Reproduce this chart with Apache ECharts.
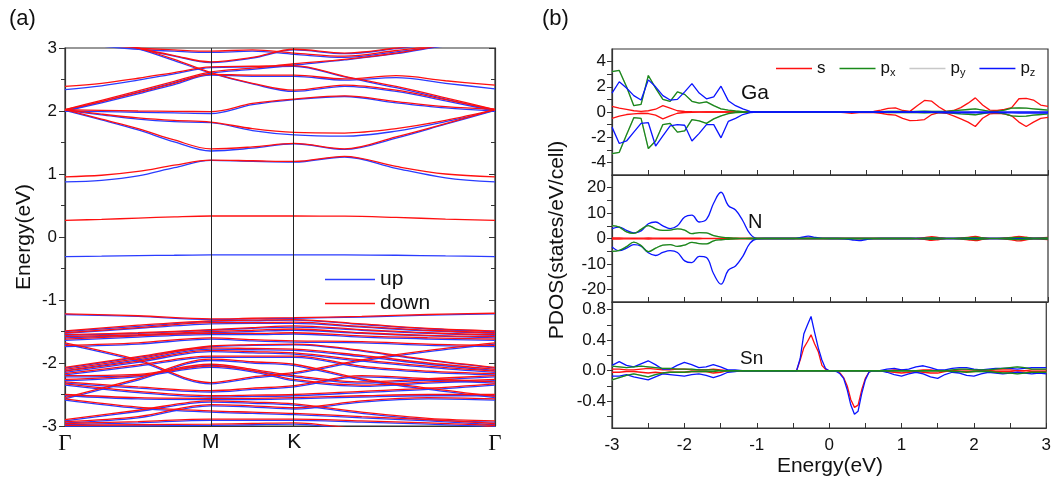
<!DOCTYPE html>
<html><head><meta charset="utf-8">
<script src="https://cdn.jsdelivr.net/npm/echarts@6/dist/echarts.min.js"></script>
<style>html,body{margin:0;padding:0;background:#fff}#c{width:1054px;height:485px}</style>
</head><body><div id="c"></div>
<script>
// ---------- Band structure (a) ----------
const kTicks = [0, 0.339, 0.533, 1];
const kLabels = ['Γ', 'M', 'K', 'Γ'];
const kC = [0, 0.085, 0.17, 0.254, 0.339, 0.436, 0.533, 0.65, 0.77, 0.885, 1.0];
const kV = [0, 0.17, 0.339, 0.436, 0.533, 0.69, 0.845, 1.0];

const condDown = [
  [0.955, 0.98, 1.04, 1.14, 1.22, 1.21, 1.20, 1.28, 1.12, 1.0, 0.955],
  [2.02, 1.87, 1.72, 1.54, 1.40, 1.43, 1.485, 1.40, 1.59, 1.80, 2.02],
  [2.02, 1.95, 1.89, 1.85, 1.825, 1.72, 1.66, 1.65, 1.72, 1.85, 2.02],
  [2.02, 2.01, 2.0, 1.995, 1.99, 2.12, 2.19, 2.24, 2.15, 2.07, 2.03],
  [2.02, 2.15, 2.29, 2.44, 2.58, 2.57, 2.57, 2.51, 2.56, 2.48, 2.41],
  [2.02, 2.17, 2.32, 2.47, 2.62, 2.68, 2.75, 2.82, 2.92, 3.05, 3.15],
  [2.39, 2.44, 2.52, 2.61, 2.70, 2.71, 2.72, 2.55, 2.39, 2.21, 2.02],
  [3.3, 3.15, 3.0, 2.82, 2.61, 2.44, 2.33, 2.41, 2.33, 2.18, 2.02],
  [3.3, 3.15, 3.0, 2.88, 2.78, 2.85, 2.98, 2.92, 3.0, 3.1, 3.2],
  [3.1, 3.05, 3.0, 2.97, 2.95, 2.97, 2.92, 2.87, 2.96, 3.05, 3.1]
];
const condUp = [
  [0.875, 0.90, 0.97, 1.10, 1.215, 1.20, 1.19, 1.27, 1.09, 0.94, 0.875],
  [2.01, 1.86, 1.70, 1.51, 1.365, 1.41, 1.48, 1.39, 1.57, 1.79, 2.01],
  [2.01, 1.94, 1.87, 1.83, 1.815, 1.69, 1.62, 1.60, 1.68, 1.83, 2.01],
  [2.0, 1.99, 1.98, 1.97, 1.96, 2.10, 2.18, 2.23, 2.13, 2.05, 2.0],
  [2.0, 2.13, 2.27, 2.42, 2.57, 2.55, 2.55, 2.49, 2.53, 2.44, 2.35],
  [2.0, 2.15, 2.30, 2.45, 2.60, 2.66, 2.73, 2.81, 2.91, 3.04, 3.14],
  [2.34, 2.40, 2.49, 2.59, 2.69, 2.70, 2.71, 2.54, 2.37, 2.19, 2.0],
  [3.3, 3.15, 2.99, 2.80, 2.60, 2.43, 2.31, 2.39, 2.31, 2.16, 2.0],
  [3.3, 3.14, 2.99, 2.87, 2.77, 2.84, 2.97, 2.91, 2.99, 3.09, 3.2],
  [3.08, 3.03, 2.98, 2.95, 2.93, 2.95, 2.90, 2.85, 2.94, 3.03, 3.08]
];
const gapDown = [0.265, 0.28, 0.30, 0.32, 0.333, 0.333, 0.333, 0.33, 0.31, 0.285, 0.265];
const gapUp = [-0.31, -0.305, -0.295, -0.29, -0.285, -0.285, -0.285, -0.285, -0.29, -0.30, -0.31];

const valDown = [
  [-1.22, -1.25, -1.30, -1.29, -1.28, -1.26, -1.23, -1.21],
  [-1.49, -1.40, -1.33, -1.32, -1.31, -1.38, -1.45, -1.49],
  [-1.52, -1.44, -1.36, -1.36, -1.35, -1.42, -1.48, -1.52],
  [-1.55, -1.52, -1.47, -1.44, -1.41, -1.47, -1.52, -1.55],
  [-1.58, -1.55, -1.50, -1.48, -1.46, -1.52, -1.56, -1.58],
  [-1.62, -1.57, -1.53, -1.53, -1.52, -1.57, -1.60, -1.62],
  [-1.68, -1.95, -2.31, -2.22, -2.15, -1.95, -1.80, -1.68],
  [-1.72, -1.68, -1.60, -1.63, -1.65, -1.66, -1.70, -1.72],
  [-2.07, -1.90, -1.73, -1.71, -1.70, -1.80, -1.95, -2.07],
  [-2.10, -1.93, -1.76, -1.77, -1.78, -1.88, -2.00, -2.10],
  [-2.13, -1.97, -1.80, -1.82, -1.84, -1.95, -2.05, -2.13],
  [-2.17, -2.03, -1.89, -1.89, -1.89, -2.05, -2.13, -2.17],
  [-2.55, -2.25, -1.94, -1.98, -2.02, -2.25, -2.40, -2.53],
  [-2.20, -2.18, -2.02, -2.10, -2.20, -2.30, -2.25, -2.20],
  [-2.26, -2.20, -2.05, -2.12, -2.26, -2.35, -2.30, -2.26],
  [-2.30, -2.38, -2.44, -2.40, -2.36, -2.20, -2.25, -2.30],
  [-2.33, -2.45, -2.52, -2.51, -2.50, -2.45, -2.40, -2.33],
  [-2.50, -2.55, -2.56, -2.56, -2.55, -2.52, -2.50, -2.50],
  [-2.90, -2.75, -2.60, -2.62, -2.65, -2.78, -2.88, -2.92],
  [-2.93, -2.85, -2.66, -2.68, -2.71, -2.60, -2.55, -2.57],
  [-2.57, -2.70, -2.76, -2.78, -2.80, -2.85, -2.90, -2.96],
  [-2.96, -2.93, -2.89, -2.89, -2.89, -2.92, -2.95, -2.99],
  [-2.99, -2.98, -2.97, -2.96, -2.95, -3.05, -3.10, -2.99]
];
const valUp = [
  [-1.23, -1.26, -1.31, -1.30, -1.29, -1.27, -1.24, -1.22],
  [-1.50, -1.42, -1.34, -1.33, -1.32, -1.39, -1.46, -1.50],
  [-1.53, -1.45, -1.38, -1.37, -1.37, -1.43, -1.49, -1.53],
  [-1.56, -1.53, -1.48, -1.45, -1.43, -1.48, -1.53, -1.56],
  [-1.60, -1.56, -1.52, -1.50, -1.48, -1.53, -1.57, -1.60],
  [-1.64, -1.59, -1.55, -1.55, -1.54, -1.59, -1.62, -1.64],
  [-1.70, -1.97, -2.33, -2.24, -2.17, -1.97, -1.82, -1.70],
  [-1.74, -1.70, -1.62, -1.65, -1.67, -1.68, -1.72, -1.74],
  [-2.08, -1.91, -1.74, -1.72, -1.71, -1.81, -1.96, -2.08],
  [-2.12, -1.95, -1.78, -1.79, -1.80, -1.90, -2.02, -2.12],
  [-2.15, -1.99, -1.82, -1.84, -1.86, -1.97, -2.07, -2.15],
  [-2.19, -2.05, -1.91, -1.91, -1.91, -2.07, -2.15, -2.19],
  [-2.57, -2.27, -1.96, -2.00, -2.04, -2.27, -2.42, -2.55],
  [-2.22, -2.20, -2.04, -2.12, -2.22, -2.32, -2.27, -2.22],
  [-2.28, -2.22, -2.07, -2.14, -2.28, -2.37, -2.32, -2.28],
  [-2.32, -2.40, -2.46, -2.42, -2.38, -2.22, -2.27, -2.32],
  [-2.35, -2.47, -2.54, -2.53, -2.52, -2.47, -2.42, -2.35],
  [-2.52, -2.57, -2.58, -2.58, -2.57, -2.54, -2.52, -2.52],
  [-2.92, -2.77, -2.62, -2.64, -2.67, -2.80, -2.90, -2.94],
  [-2.95, -2.87, -2.68, -2.70, -2.73, -2.62, -2.57, -2.59],
  [-2.59, -2.72, -2.78, -2.80, -2.82, -2.87, -2.92, -2.98],
  [-2.98, -2.95, -2.91, -2.91, -2.91, -2.94, -2.97, -3.01],
  [-3.01, -3.00, -2.99, -2.98, -2.97, -3.07, -3.12, -3.01]
];

// ---------- PDOS (b) ----------
const eGrid = [-3.0,-2.9,-2.8,-2.7,-2.6,-2.5,-2.4,-2.3,-2.2,-2.1,-2.0,-1.9,-1.8,-1.7,-1.6,-1.5,-1.4,-1.3,-1.2,-1.1,
  -1.0,-0.9,-0.8,-0.7,-0.6,-0.5,-0.4,-0.3,-0.2,-0.1,0.0,0.1,0.2,0.3,0.4,0.5,0.6,0.7,0.8,0.9,
  1.0,1.1,1.2,1.3,1.4,1.5,1.6,1.7,1.8,1.9,2.0,2.1,2.2,2.3,2.4,2.5,2.6,2.7,2.8,2.9,3.0];

const gaSUp = [0.45,0.30,0.20,0.10,0.05,0.10,0.22,0.50,0.30,0.10,0.04,0.02,0.01,
  0,0,0,0,0,0,0,0,0,0,0,0,0,0,0,0,0,
  0,0,0,0,0,0.02,0.05,0.15,0.28,0.33,
  0.12,0.05,0.5,0.92,0.86,0.4,0.05,0.12,0.35,0.7,
  1.12,0.55,0.15,0.12,0.2,0.35,1.05,1.08,0.95,0.55,0.45];
const gaSDown = [-0.5,-0.32,-0.2,-0.15,-0.1,-0.12,-0.25,-0.55,-0.3,-0.1,-0.04,-0.02,-0.01,
  0,0,0,0,0,0,0,0,0,0,0,0,0,0,0,0,0,
  0,0,-0.05,-0.1,-0.05,-0.02,-0.05,-0.1,-0.2,-0.25,
  -0.5,-0.68,-0.66,-0.6,-0.2,-0.05,-0.1,-0.3,-0.55,-0.8,
  -1.15,-0.5,-0.15,-0.1,-0.15,-0.3,-0.8,-1.15,-0.8,-0.5,-0.42];
const gaPxUp = [3.2,3.3,2.0,0.5,0.6,2.9,1.9,1.0,0.85,1.6,
  1.4,0.85,0.7,0.8,0.5,0.25,0.15,0.08,0.03,0.01,
  0,0,0,0,0,0,0,0,0,0,
  0,0,0,0,0,0,0.01,0.02,0.05,0.05,
  0.04,0.03,0.05,0.06,0.05,0.04,0.05,0.1,0.15,0.2,
  0.24,0.15,0.05,0.05,0.15,0.3,0.33,0.3,0.25,0.2,0.15];
const gaPxDown = [-3.3,-3.2,-1.8,-0.45,-0.5,-2.9,-2.3,-1.0,-0.9,-1.6,
  -1.5,-0.6,-0.7,-0.9,-0.55,-0.3,-0.12,-0.05,-0.02,-0.01,
  0,0,0,0,0,0,0,0,0,0,
  0,0,0,0,0,0,-0.01,-0.02,-0.05,-0.05,
  -0.04,-0.03,-0.05,-0.06,-0.05,-0.04,-0.05,-0.1,-0.15,-0.18,
  -0.22,-0.12,-0.05,-0.05,-0.15,-0.3,-0.35,-0.32,-0.25,-0.2,-0.15];
const gaPzUp = [1.5,2.4,1.9,1.3,0.95,2.55,2.0,1.3,0.95,1.0,
  1.6,2.25,1.5,1.05,1.2,2.05,0.9,0.5,0.25,0.05,
  0,0,0,0,0,0,0,0.03,0.02,0,
  0,0,0,0,0,0,0,0,0,0,
  0,0,0,0,0,0,0,0,0,0,
  0,0,0,0,0,0,0,0,0,0,0];
const gaPzDown = [-1.2,-2.5,-2.3,-1.6,-0.9,-0.85,-2.7,-1.9,-1.1,-1.0,
  -1.05,-2.3,-1.7,-1.0,-1.0,-2.05,-0.75,-0.5,-0.2,-0.05,
  0,0,0,0,0,0,0,0,0,0,
  0,0,0,0,0,0,0,0,0,0,
  0,0,0,0,-0.03,-0.05,-0.06,-0.06,-0.06,-0.06,
  -0.07,-0.06,-0.05,-0.05,-0.06,-0.07,-0.08,-0.08,-0.08,-0.08,-0.08];

const nSUp = [0.2,0.2,0.15,0.1,0.15,0.2,0.15,0.1,0.1,0.1,
  0.1,0.1,0.1,0.05,0.05,0.05,0,0,0,0,
  0,0,0,0,0,0,0,0,0,0,
  0,0,0,0,0,0,0,0,0,0,
  0,0,0.1,0.3,0.7,0.35,0.05,0.05,0.2,0.45,
  0.8,0.3,0.05,0.05,0.2,0.45,0.85,0.5,0.15,0.2,0.4];
const nSDown = [-0.2,-0.2,-0.15,-0.1,-0.15,-0.2,-0.15,-0.1,-0.1,-0.1,
  -0.1,-0.1,-0.1,-0.05,-0.05,-0.05,0,0,0,0,
  0,0,0,0,0,0,0,0,0,0,
  0,0,0,0,0,0,0,0,0,0,
  0,0,-0.1,-0.35,-0.75,-0.4,-0.05,-0.05,-0.2,-0.5,
  -0.85,-0.35,-0.05,-0.05,-0.2,-0.5,-0.9,-0.55,-0.15,-0.2,-0.4];
const nPxUp = [5.1,4.5,2.6,2.0,3.6,5.1,3.8,3.2,3.3,3.8,
  3.3,1.9,2.3,2.2,1.1,0.5,0.3,0.1,0.05,0,
  0,0,0,0,0,0,0,0,0,0,
  0,0,0,0,0,0,0,0,0,0,
  0,0,0.05,0.15,0.3,0.15,0.05,0.05,0.15,0.3,
  0.4,0.2,0.05,0.05,0.1,0.3,0.4,0.3,0.15,0.15,0.2];
const nPxDown = [-5.1,-4.7,-3.2,-1.4,-2.8,-5.2,-3.8,-2.6,-2.4,-3.1,
  -2.6,-1.5,-2.0,-2.1,-0.9,-0.5,-0.3,-0.1,-0.05,0,
  0,0,0,0,0,0,0,0,0,0,
  0,0,0,0,0,0,0,0,0,0,
  0,0,-0.05,-0.15,-0.3,-0.15,-0.05,-0.05,-0.15,-0.3,
  -0.4,-0.2,-0.05,-0.05,-0.1,-0.3,-0.45,-0.3,-0.15,-0.15,-0.2];
const nPzUp = [3.9,4.5,3.2,2.2,3.0,5.8,6.5,5.0,3.9,5.0,
  8.5,9.2,6.5,7.5,14.0,18.2,13.0,11.2,7.0,1.8,
  0,0,0,0,0,0,0.4,0.9,0.4,0.05,
  0,0,0,0,0,0,0,0,0,0,
  0,0,0,0,0,0,0,0,0,0,
  0,0,0,0,0,0,0,0,0,0,0];
const nPzDown = [-3.3,-4.8,-3.8,-2.4,-3.0,-5.6,-6.7,-5.5,-4.8,-5.5,
  -8.8,-9.5,-7.0,-7.5,-14.0,-18.0,-12.5,-10.8,-7.0,-1.8,
  -0.1,0,0,0,0,0,0,0,0,0,
  0,0,-0.1,-0.5,-0.8,-0.4,-0.05,0,0,0,
  0,0,0,0,0,0,0,0,0,0,
  0,0,0,0,0,0,0,0,0,0,0];

const snE = [-3.0,-2.9,-2.8,-2.7,-2.6,-2.5,-2.4,-2.3,-2.2,-2.1,-2.0,-1.9,-1.8,-1.7,-1.6,-1.5,-1.4,-1.3,-1.2,
  -1.1,-1.0,-0.9,-0.8,-0.7,-0.6,-0.5,
  -0.45,-0.4,-0.35,-0.3,-0.25,-0.2,-0.15,-0.1,-0.05,0.0,0.05,0.1,0.15,0.2,0.25,0.3,0.35,0.4,0.45,0.5,0.55,0.6,
  0.7,0.8,0.9,1.0,1.1,1.2,1.3,1.4,1.5,1.6,1.7,1.8,1.9,2.0,2.1,2.2,2.3,2.4,2.5,2.6,2.7,2.8,2.9,3.0];
const snSUp = [0.02,0.02,0.01,0.01,0.02,0.03,0.02,0.01,0.01,0.02,0.02,0.01,0.01,0.01,0.02,0.01,0,0,0,
  0,0,0,0,0,0,0,
  0,0.14,0.3,0.38,0.47,0.35,0.25,0.07,0.02,0,0,0,0,0,0,0,0,0,0,0,0,0,
  0,0,0.01,0.01,0,0,0.01,0.01,0,0,0,0.01,0.01,0.01,0,0,0.01,0.01,0.01,0,0,0.01,0.01,0.01];
const snSDown = [-0.02,-0.02,-0.01,-0.01,-0.02,-0.03,-0.02,-0.03,-0.02,-0.02,-0.02,-0.01,-0.01,-0.01,-0.03,-0.02,0,0,0,
  0,0,0,0,0,0,0,
  0,0,0,0,0,0,0,0,0,0,0,0,-0.03,-0.09,-0.2,-0.38,-0.48,-0.45,-0.25,-0.1,-0.02,0,
  0,-0.01,-0.02,-0.03,-0.02,-0.01,-0.02,-0.03,-0.03,-0.01,0,-0.01,-0.01,-0.01,0,0,-0.01,-0.01,-0.01,0,0,-0.01,-0.01,-0.01];
const snPxUp = [0.06,0.05,0.04,0.05,0.06,0.05,0.04,0.03,0.03,0.02,0.02,0.02,0.01,0.01,0.01,0,0,0,0,
  0,0,0,0,0,0,0,
  0,0,0,0,0,0,0,0,0,0,0,0,0,0,0,0,0,0,0,0,0,0,
  0,0,0,0,0,0,0,0,0,0,0.01,0.02,0.02,0.01,0.01,0.01,0.02,0.03,0.04,0.05,0.04,0.02,0.02,0.02];
const snPxDown = [-0.12,-0.09,-0.06,-0.04,-0.06,-0.08,-0.05,-0.03,-0.02,-0.02,-0.02,-0.01,-0.01,-0.01,-0.01,0,0,0,0,
  0,0,0,0,0,0,0,
  0,0,0,0,0,0,0,0,0,0,0,0,0,0,0,0,0,0,0,0,0,0,
  0,0,0,0,0,0,0,0,0,0,-0.01,-0.01,-0.02,-0.01,-0.01,-0.01,-0.02,-0.03,-0.03,-0.04,-0.03,-0.02,-0.02,-0.02];
const snPzUp = [0.07,0.12,0.07,0.05,0.09,0.13,0.08,0.02,0.02,0.07,0.11,0.08,0.04,0.05,0.08,0.05,0.01,0.01,0,
  0,0,0,0,0,0,0,
  0,0.16,0.48,0.6,0.71,0.5,0.3,0.14,0.03,0,0,0,0,0,0,0,0,0,0,0,0,0,
  0,0.02,0.03,0.01,0.02,0.05,0.065,0.04,0.01,0.01,0.03,0.04,0.04,0.02,0.01,0.02,0.03,0.03,0.03,0.02,0.03,0.04,0.04,0.04];
const snPzDown = [-0.07,-0.07,-0.05,-0.08,-0.1,-0.12,-0.08,-0.04,-0.05,-0.06,-0.07,-0.05,-0.04,-0.06,-0.09,-0.06,-0.02,-0.01,0,
  0,0,0,0,0,0,0,
  0,0,0,0,0,0,0,0,0,0,0,-0.01,-0.04,-0.1,-0.25,-0.45,-0.57,-0.53,-0.3,-0.12,-0.02,0,
  0,-0.02,-0.05,-0.07,-0.04,-0.02,-0.04,-0.08,-0.1,-0.05,-0.02,-0.03,-0.06,-0.07,-0.04,-0.02,-0.03,-0.04,-0.03,-0.02,-0.03,-0.04,-0.03,-0.04];

// ---------- chart ----------
const FONT = 'Liberation Sans, Arial, sans-serif';
const RED = '#ff1010', BLUE = '#2a3cff', GREEN = '#1a8a1a', GRAY = '#c8c8c8', PZ = '#0a14ff';
const chart = echarts.init(document.getElementById('c'), null, {renderer: 'canvas'});

const pairs = (xs, ys) => xs.map((x, i) => [x, ys[i]]);
const series = [];
function bandSeries(ks, arr, name, color, z) {
  arr.forEach(b => series.push({
    type: 'line', name, xAxisIndex: 0, yAxisIndex: 0, data: pairs(ks, b),
    smooth: 0.35, symbol: 'none', z, lineStyle: {color, width: 1.3}, itemStyle: {color}
  }));
}
bandSeries(kC, condUp, 'up', BLUE, 2);
bandSeries(kC, [gapUp], 'up', BLUE, 2);
bandSeries(kV, valUp, 'up', BLUE, 2);
bandSeries(kC, condDown, 'down', RED, 3);
bandSeries(kC, [gapDown], 'down', RED, 3);
bandSeries(kV, valDown, 'down', RED, 3);
series.push({
  type: 'line', name: 'kline', xAxisIndex: 0, yAxisIndex: 0, data: [[0, 10]], symbol: 'none', z: 5,
  lineStyle: {width: 0},
  markLine: {silent: true, symbol: 'none', label: {show: false}, animation: false,
    lineStyle: {color: '#222', type: 'solid', width: 1},
    data: [{xAxis: kTicks[1]}, {xAxis: kTicks[2]}]}
});

function pdos(panel, xs, list, smooth) {
  list.forEach(([name, ys, color, z]) => series.push({
    type: 'line', name, xAxisIndex: panel, yAxisIndex: panel, data: pairs(xs, ys),
    smooth, symbol: 'none', z, lineStyle: {color, width: 1.3}, itemStyle: {color}
  }));
}
pdos(1, eGrid, [['py', gaPxUp, GRAY, 1], ['py', gaPxDown, GRAY, 1],
  ['s', gaSUp, RED, 2], ['s', gaSDown, RED, 2],
  ['px', gaPxUp, GREEN, 3], ['px', gaPxDown, GREEN, 3],
  ['pz', gaPzUp, PZ, 4], ['pz', gaPzDown, PZ, 4]], false);
pdos(2, eGrid, [['py', nPxUp, GRAY, 1], ['py', nPxDown, GRAY, 1],
  ['s', nSUp, RED, 2], ['s', nSDown, RED, 2],
  ['pz', nPzUp, PZ, 3], ['pz', nPzDown, PZ, 3],
  ['px', nPxUp, GREEN, 4], ['px', nPxDown, GREEN, 4]], 0.4);
pdos(3, snE, [['py', snPxUp, GRAY, 1], ['py', snPxDown, GRAY, 1],
  ['s', snSUp, RED, 2], ['s', snSDown, RED, 2],
  ['pz', snPzUp, PZ, 3], ['pz', snPzDown, PZ, 3],
  ['px', snPxUp, GREEN, 4], ['px', snPxDown, GREEN, 4]], false);

const axisCol = '#333';
const lbl = {fontFamily: FONT, fontSize: 17, color: '#111'};
const aLine = {show: true, onZero: false, lineStyle: {color: axisCol, width: 1.2}};
function pdosX(gi, showLabel) {
  return {type: 'value', gridIndex: gi, min: -3, max: 3, interval: 1,
    axisLine: aLine,
    axisTick: {show: true, inside: true, length: 5, lineStyle: {color: axisCol}},
    minorTick: {show: true, splitNumber: 2, length: 5, lineStyle: {color: axisCol}},
    splitLine: {show: false},
    axisLabel: Object.assign({show: showLabel, margin: 9}, lbl)};
}
function pdosY(gi, min, max, labels, ticks, fmt) {
  return {type: 'value', gridIndex: gi, min, max,
    axisLine: aLine,
    axisTick: {show: true, length: 5, customValues: ticks, lineStyle: {color: axisCol}},
    splitLine: {show: false},
    axisLabel: Object.assign({customValues: labels, margin: 6, formatter: fmt}, lbl)};
}

const option = {
  animation: false,
  backgroundColor: '#fff',
  grid: [
    {left: 65, top: 48, width: 430, height: 378, show: true, borderColor: axisCol, borderWidth: 1.2},
    {left: 612, top: 49, width: 436, height: 126, show: true, borderColor: axisCol, borderWidth: 1.2},
    {left: 612, top: 175, width: 436, height: 127, show: true, borderColor: axisCol, borderWidth: 1.2},
    {left: 612, top: 302, width: 436, height: 126, show: true, borderColor: axisCol, borderWidth: 1.2}
  ],
  xAxis: [
    {type: 'value', gridIndex: 0, min: 0, max: 1,
      axisLine: aLine,
      axisTick: {show: false}, splitLine: {show: false},
      axisLabel: {customValues: kTicks, margin: 6,
        formatter: v => {
          const i = kTicks.findIndex(t => Math.abs(t - v) < 1e-6);
          const s = i >= 0 ? kLabels[i] : '';
          return s === 'Γ' ? '{g|Γ}' : '{s|' + s + '}';
        },
        rich: {g: {fontFamily: 'Liberation Serif, DejaVu Serif, serif', fontSize: 23, color: '#111'},
               s: {fontFamily: FONT, fontSize: 21, color: '#111'}}}},
    pdosX(1, false), pdosX(2, false), pdosX(3, true)
  ],
  yAxis: [
    {type: 'value', gridIndex: 0, min: -3, max: 3, interval: 1,
      axisLine: aLine,
      axisTick: {show: true, length: 6, lineStyle: {color: axisCol}},
      minorTick: {show: true, splitNumber: 2, length: 4, lineStyle: {color: axisCol}},
      splitLine: {show: false},
      axisLabel: Object.assign({margin: 8}, lbl)},
    pdosY(1, -5, 5, [-4, -2, 0, 2, 4], [-4, -3, -2, -1, 0, 1, 2, 3, 4], v => String(v)),
    pdosY(2, -25, 25, [-20, -10, 0, 10, 20], [-20, -15, -10, -5, 0, 5, 10, 15, 20], v => String(v)),
    pdosY(3, -0.75, 0.9, [-0.4, 0, 0.4, 0.8], [-0.6, -0.4, -0.2, 0, 0.2, 0.4, 0.6, 0.8], v => v.toFixed(1)),
    {type: 'value', gridIndex: 0, position: 'right', min: -3, max: 3, interval: 1,
      axisLine: aLine,
      axisTick: {show: true, inside: true, length: 6, lineStyle: {color: axisCol}},
      minorTick: {show: true, splitNumber: 2, length: 4, lineStyle: {color: axisCol}},
      splitLine: {show: false}, axisLabel: {show: false}}
  ],
  legend: [
    {data: ['up', 'down'], orient: 'vertical', left: 320, top: 264, icon: 'rect', itemWidth: 50, itemHeight: 1.5, itemGap: 3,
      z: 10, textStyle: {fontFamily: FONT, fontSize: 21, color: '#111'}, selectedMode: false},
    {data: ['s', 'px', 'py', 'pz'], left: 771, top: 55, icon: 'rect', itemWidth: 36, itemHeight: 1.5, itemGap: 14,
      selectedMode: false,
      formatter: n => n === 's' ? '{b|s}' : '{b|p}{sub|' + n.slice(1) + '}',
      textStyle: {fontFamily: FONT, fontSize: 17, color: '#111',
        rich: {b: {fontFamily: FONT, fontSize: 17, color: '#111'},
               sub: {fontFamily: FONT, fontSize: 11, color: '#111', padding: [9, 0, 0, 0]}}}}
  ],
  graphic: [
    {type: 'text', left: 9, top: 8, style: {text: '(a)', font: '22px ' + FONT, fill: '#111'}},
    {type: 'text', left: 542, top: 8, style: {text: '(b)', font: '22px ' + FONT, fill: '#111'}},
    {type: 'text', x: 24, y: 237, rotation: Math.PI / 2,
      style: {text: 'Energy(eV)', font: '21px ' + FONT, fill: '#111', textAlign: 'center', textVerticalAlign: 'middle'}},
    {type: 'text', x: 557, y: 240, rotation: Math.PI / 2,
      style: {text: 'PDOS(states/eV/cell)', font: '21px ' + FONT, fill: '#111', textAlign: 'center', textVerticalAlign: 'middle'}},
    {type: 'text', x: 830, y: 466,
      style: {text: 'Energy(eV)', font: '21px ' + FONT, fill: '#111', textAlign: 'center', textVerticalAlign: 'middle'}},
    {type: 'text', left: 741, top: 83, style: {text: 'Ga', font: '21px ' + FONT, fill: '#111'}},
    {type: 'text', left: 748, top: 212, style: {text: 'N', font: '20px ' + FONT, fill: '#111'}},
    {type: 'text', left: 740, top: 349, style: {text: 'Sn', font: '19px ' + FONT, fill: '#111'}}
  ],
  series
};
chart.setOption(option);
</script></body></html>
